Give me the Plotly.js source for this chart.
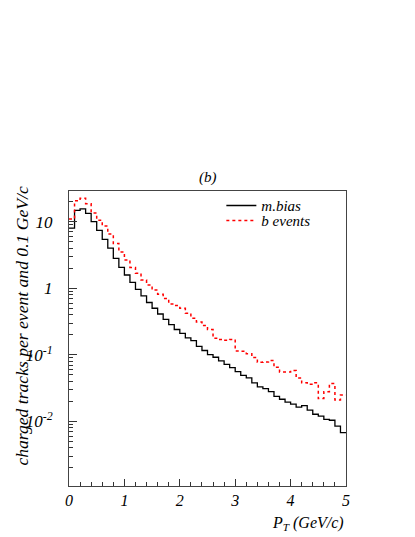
<!DOCTYPE html>
<html>
<head>
<meta charset="utf-8">
<script src="https://cdn.plot.ly/plotly-3.0.1.min.js"></script>
<style>
  html, body { margin: 0; padding: 0; background: #fff; }
  #ptPlot { width: 415px; height: 537px; }
</style>
</head>
<body>
<div id="ptPlot"></div>
<script>
// P_T spectra, 50 bins of 0.1 GeV/c from 0 to 5
let binWidth = 0.1;
let nBins = 50;

let mbias = [8, 14.8, 15.5, 13.3, 10, 7.4, 5.4, 4.0, 2.8, 2.05,
             1.58, 1.22, 0.96, 0.77, 0.61, 0.5, 0.41, 0.34, 0.285, 0.24,
             0.21, 0.18, 0.163, 0.134, 0.116, 0.101, 0.092, 0.081, 0.072, 0.064,
             0.056, 0.049, 0.045, 0.038, 0.033, 0.031, 0.028, 0.0238, 0.0215, 0.0195,
             0.0182, 0.0164, 0.0172, 0.0148, 0.0128, 0.012, 0.0107, 0.0104, 0.0085, 0.0068];

let bEvents = [11, 20.5, 22.5, 18.5, 13.5, 10.5, 8.6, 6.5, 4.7, 3.5,
               2.65, 2.05, 1.68, 1.33, 1.12, 0.94, 0.81, 0.7, 0.58, 0.55,
               0.5, 0.42, 0.355, 0.31, 0.275, 0.24, 0.178, 0.17, 0.165, 0.17,
               0.114, 0.113, 0.104, 0.091, 0.077, 0.078, 0.082, 0.065, 0.055, 0.055,
               0.058, 0.045, 0.038, 0.036, 0.038, 0.022, 0.028, 0.037, 0.021, 0.025];

let yTickVals = [0.01, 0.1, 1, 10];
let yTickText = ["10<sup>-2</sup>", "10<sup>-1</sup>", "1", "10"];
let xTickVals = [0, 1, 2, 3, 4, 5];

// step outline: left bin edges plus the closing edge
function stepX(n) {
  let xs = [];
  for (let i = 0; i <= n; i++) xs.push(+(i * binWidth).toFixed(2));
  return xs;
}
function stepY(vals) {
  return vals.concat([vals[vals.length - 1]]);
}

let serif = '"Times New Roman", "Liberation Serif", Times, serif';

var data = [
  {
    x: stepX(nBins),
    y: stepY(mbias),
    mode: "lines",
    name: "m.bias",
    legend: "legend",
    line: {color: "black", width: 1.3, shape: "hv"}
  },
  {
    x: stepX(nBins),
    y: stepY(bEvents),
    mode: "lines",
    name: "b events",
    legend: "legend2",
    line: {color: "red", width: 1.5, shape: "hv", dash: "dot"}
  }
];

// one entry per legend so the rows sit as tight as in the original
var legendStyle = {
  bgcolor: "rgba(0,0,0,0)", borderwidth: 0,
  font: {family: serif, style: "italic", size: 15},
  itemwidth: 30
};

var layout = {
  width: 415,
  height: 537,
  paper_bgcolor: "white",
  plot_bgcolor: "white",
  margin: {l: 69, r: 69, t: 191, b: 51, pad: 0},
  font: {family: serif, style: "italic", color: "black", size: 15},
  showlegend: true,
  legend: Object.assign({x: 0.55, y: 1.006, xanchor: "left", yanchor: "top"}, legendStyle),
  legend2: Object.assign({x: 0.55, y: 0.955, xanchor: "left", yanchor: "top"}, legendStyle),
  xaxis: {
    range: [0, 5],
    tickvals: xTickVals,
    ticks: "inside", ticklen: 7, tickcolor: "#333",
    minor: {dtick: 0.2, ticks: "inside", ticklen: 4, tickcolor: "#333", showgrid: false},
    showgrid: false, zeroline: false,
    showline: true, linecolor: "#444", linewidth: 1, mirror: true,
    tickfont: {family: serif, style: "italic", size: 16}
  },
  yaxis: {
    type: "log",
    range: [-2.97, 1.46],
    tickvals: yTickVals,
    ticktext: yTickText,
    ticks: "inside", ticklen: 8, tickcolor: "#333",
    minor: {dtick: "D1", ticks: "inside", ticklen: 4, tickcolor: "#333", showgrid: false},
    showgrid: false, zeroline: false,
    showline: true, linecolor: "#444", linewidth: 1, mirror: true,
    ticklabelstandoff: 12,
    tickfont: {family: serif, style: "italic", size: 17}
  },
  annotations: [
    {
      text: "(b)", xref: "paper", yref: "paper", x: 0.5, y: 1.0,
      xanchor: "center", yanchor: "bottom", yshift: 3, showarrow: false,
      font: {family: serif, style: "italic", size: 15}
    },
    {
      text: "P<sub>T</sub> (GeV/c)", xref: "paper", yref: "paper", x: 1.0, y: 0,
      xanchor: "right", yanchor: "top", yshift: -26, showarrow: false,
      font: {family: serif, style: "italic", size: 16}
    },
    {
      text: "charged tracks per event and 0.1 GeV/c", xref: "paper", yref: "paper",
      x: 0, y: 1.02, xanchor: "center", yanchor: "top", xshift: -47,
      textangle: -90, showarrow: false,
      font: {family: serif, style: "italic", size: 17.6}
    }
  ]
};

Plotly.newPlot("ptPlot", data, layout, {staticPlot: true, displayModeBar: false});
</script>
</body>
</html>
